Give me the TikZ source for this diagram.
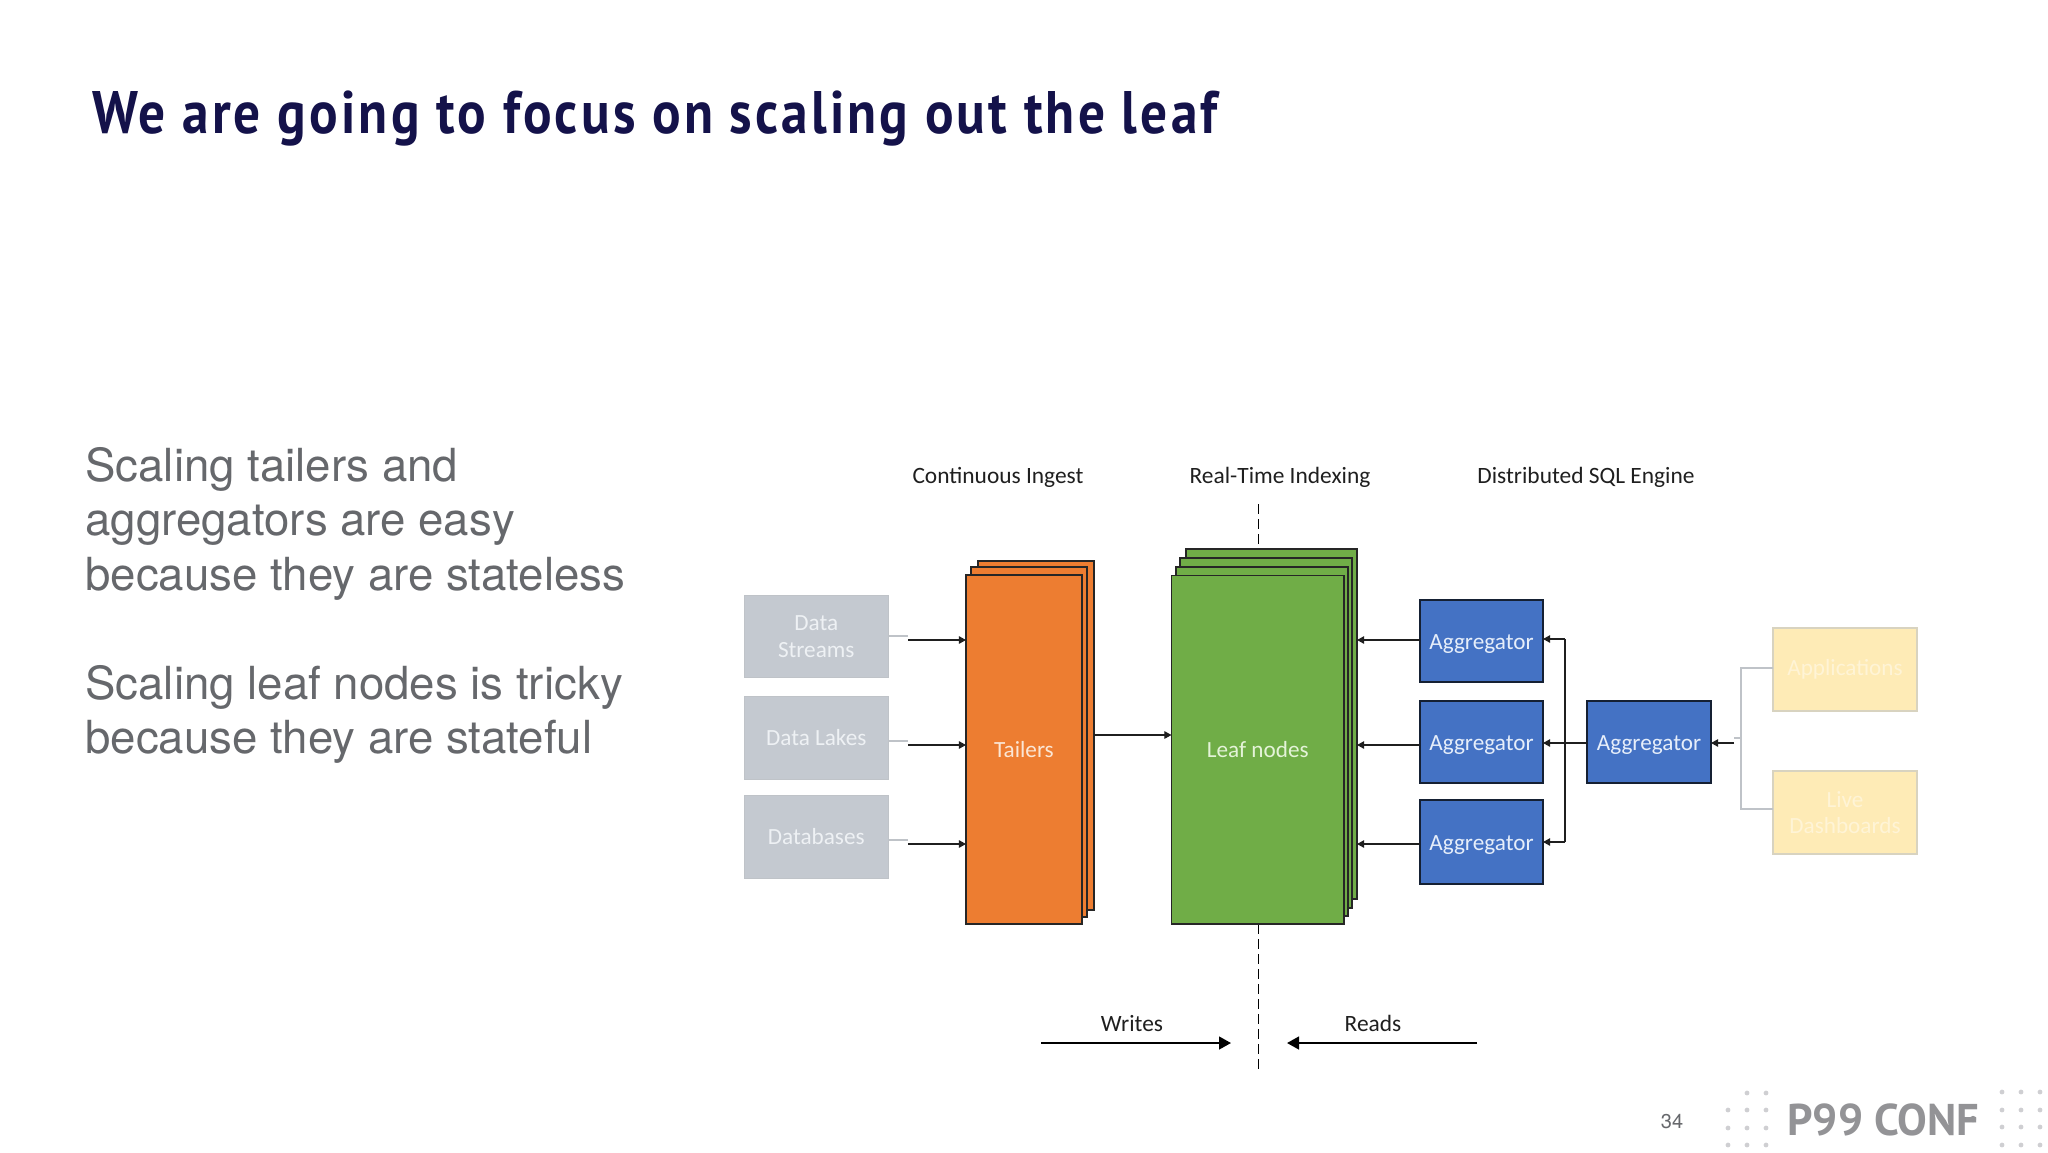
\documentclass[tikz,border=0pt]{standalone}
\usepackage{fontspec}
\usetikzlibrary{arrows.meta}
\setmainfont{TeX Gyre Heros}
\newfontfamily\cali{Carlito}
\newfontfamily\titlef[LetterSpace=6]{PT Sans}
\newfontfamily\logof{PT Sans}
\definecolor{titlecol}{HTML}{14124A}
\definecolor{bodycol}{HTML}{66686C}
\definecolor{greyfill}{HTML}{C4C9D0}
\definecolor{greyline}{HTML}{BFC3C8}
\definecolor{greytext}{HTML}{EEF1F4}
\definecolor{orangefill}{HTML}{ED7D31}
\definecolor{orangetext}{HTML}{FBE6D5}
\definecolor{greenfill}{HTML}{70AD47}
\definecolor{greentext}{HTML}{E4F3D8}
\definecolor{bluefill}{HTML}{4472C4}
\definecolor{bluetext}{HTML}{E6EEFA}
\definecolor{yellowfill}{HTML}{FEEBB6}
\definecolor{yellowline}{HTML}{D8D3C0}
\definecolor{yellowtext}{HTML}{FFF4D6}
\definecolor{darkedge}{HTML}{152033}
\definecolor{logocol}{HTML}{939396}
\definecolor{dotcol}{HTML}{CFCFD2}
\newcommand{\pxbox}[7]{%
  \pgfmathsetmacro{\bw}{(#5-#3)*0.5}%
  \pgfmathsetmacro{\bh}{(#6-#4)*0.5}%
  \node[#2,minimum width=\bw pt,minimum height=\bh pt] (#1) at ({(#3+#5)/2},{(#4+#6)/2}) {#7};}
\newcommand{\aggtext}{\raisebox{-1.6pt}[8pt][2.5pt]{Aggregator}}
\tikzset{
  x=0.5pt,y=-0.5pt,
  boxbase/.style={rectangle,inner sep=0pt,outer sep=0pt,align=center,font=\cali\fontsize{11.6}{13.4}\selectfont},
  greybox/.style={boxbase,fill=greyfill,draw=greyline,line width=0.5pt,text=greytext},
  yellowbox/.style={boxbase,fill=yellowfill,draw=yellowline,line width=0.6pt,text=yellowtext},
  orangebox/.style={boxbase,fill=orangefill,draw=black!85,line width=0.55pt,text=orangetext},
  greenbox/.style={boxbase,fill=greenfill,draw=black!85,line width=0.55pt,text=greentext},
  bluebox/.style={boxbase,fill=bluefill,draw=darkedge,line width=0.6pt,text=bluetext},
  heading/.style={inner sep=0pt,font=\cali\fontsize{11.7}{14}\selectfont,text=black!88},
  flow/.style={draw=black!88,line width=0.55pt,-{Triangle[length=3.6pt,width=3.8pt]}},
  bigflow/.style={draw=black,line width=1pt,-{Triangle[length=6pt,width=6.4pt]}},
  feeder/.style={draw=greyline,line width=0.55pt},
  divider/.style={draw=black,line width=0.5pt,dash pattern=on 5pt off 2.5pt},
  bodytext/.style={inner sep=0pt,anchor=base west,text=bodycol,font=\fontsize{22.8}{27}\selectfont},
  griddot/.style={circle,fill=dotcol,inner sep=0pt,minimum size=2.4pt},
}
\begin{document}
\begin{tikzpicture}
\useasboundingbox (0,0) rectangle (2048,1152);
\fill[white] (0,0) rectangle (2048,1152);

\node[inner sep=0pt,anchor=base west,text=titlecol,font=\titlef\bfseries\fontsize{30}{36}\selectfont] (title) at (92,133) {\scalebox{0.888}[1]{We are going to focus on scaling out the leaf}};

\node[bodytext] (b1) at (85,481) {Scaling tailers and};
\node[bodytext] (b2) at (85,535) {aggregators are easy};
\node[bodytext] (b3) at (85,590) {because they are stateless};
\node[bodytext] (b4) at (85,699) {Scaling leaf nodes is tricky};
\node[bodytext] (b5) at (85,753) {because they are stateful};

\node[heading] (h1) at (998,477) {Continuous Ingest};
\node[heading] (h2) at (1280,477) {Real-Time Indexing};
\node[heading] (h3) at (1586,477) {Distributed SQL Engine};

% dashed divider (behind the stacks)
\coordinate (dtop) at (1258,504);
\coordinate (dbot) at (1258,1072);
\draw[divider] (dtop) -- (dbot);

% source boxes
\pxbox{ds}{greybox}{744.5}{595.5}{888}{677.5}{Data\\Streams}
\pxbox{dl}{greybox}{744.5}{696.5}{888}{779}{Data Lakes}
\pxbox{db}{greybox}{744.5}{795.5}{888}{878.5}{Databases}

% tailers stack
\pxbox{t3}{orangebox}{978}{561}{1094}{910}{}
\pxbox{t2}{orangebox}{971}{567}{1087}{917}{}
\pxbox{tailers}{orangebox}{966}{575}{1082}{924}{Tailers}

% leaf stack
\pxbox{l4}{greenbox}{1186}{549}{1357}{899}{}
\pxbox{l3}{greenbox}{1180}{558}{1352}{908}{}
\pxbox{l2}{greenbox}{1176}{567}{1348}{916}{}
\pxbox{leaf}{greenbox}{1171.5}{575.5}{1344}{924}{Leaf nodes}

% aggregators
\pxbox{a1}{bluebox}{1420}{600}{1543}{682}{\aggtext}
\pxbox{a2}{bluebox}{1420}{701}{1543}{783}{\aggtext}
\pxbox{a3}{bluebox}{1420}{800}{1543}{884}{\aggtext}
\pxbox{ac}{bluebox}{1587}{701}{1711}{783}{\aggtext}

% clients
\pxbox{apps}{yellowbox}{1773}{628}{1917}{711}{\raisebox{-0.4pt}[8pt][2.5pt]{Applications}}
\pxbox{live}{yellowbox}{1773}{771}{1917}{854}{Live\\Dashboards}

% source connectors
\coordinate (s1) at (908,636); \coordinate (s1a) at (908,640);
\coordinate (s2) at (908,741); \coordinate (s2a) at (908,745);
\coordinate (s3) at (908,840); \coordinate (s3a) at (908,844);
\draw[feeder] (ds.east |- s1) -- (s1);
\draw[feeder] (dl.east |- s2) -- (s2);
\draw[feeder] (db.east |- s3) -- (s3);
\draw[flow] (s1a) -- (tailers.west |- s1a);
\draw[flow] (s2a) -- (tailers.west |- s2a);
\draw[flow] (s3a) -- (tailers.west |- s3a);

% tailers to leaf
\coordinate (tl) at (1094,735);
\draw[flow] (t3.east |- tl) -- (leaf.west |- tl);

% aggregators to leaf
\draw[flow] (a1.west |- s1a) -- (l4.east |- s1a);
\draw[flow] (a2.west |- s2a) -- (l4.east |- s2a);
\draw[flow] (a3.west |- s3a) -- (l4.east |- s3a);

% central aggregator fan-out
\coordinate (fan) at (1565,743);
\coordinate (fan1) at (1565,639);
\coordinate (fan3) at (1565,842);
\draw[flow] (ac.west |- fan) -- (a2.east |- fan);
\draw[flow] (fan1) -- (a1.east |- fan1);
\draw[flow] (fan3) -- (a3.east |- fan3);
\draw[draw=black!88,line width=0.55pt] (fan1) -- (fan3);

% clients to aggregator
\coordinate (cin) at (1734,743);
\coordinate (cg) at (1734,738);
\coordinate (cv) at (1741,738);
\coordinate (cv1) at (1741,668);
\coordinate (cv2) at (1741,809);
\draw[flow] (cin) -- (ac.east |- cin);
\draw[feeder] (cg) -- (cv);
\draw[feeder] (apps.west |- cv1) -- (cv1) -- (cv2) -- (live.west |- cv2);

% writes / reads
\node[heading] (w) at (1132,1024) {Writes};
\node[heading] (r) at (1373,1023) {Reads};
\coordinate (w1) at (1041,1043); \coordinate (w2) at (1231,1043);
\coordinate (r1) at (1477,1043); \coordinate (r2) at (1287,1043);
\draw[bigflow] (w1) -- (w2);
\draw[bigflow] (r1) -- (r2);

% footer
\node[inner sep=0pt,text=bodycol,font=\fontsize{10}{12}\selectfont] (pg) at (1672,1122) {34};
\node[inner sep=0pt,anchor=west,text=logocol] (logo) at (1787,1120) {\logof\bfseries\resizebox{96pt}{!}{P99 CONF}};
\node[circle,fill=logocol,inner sep=0pt,minimum size=3.2pt] (logodot) at (1973,1119) {};
\foreach \px/\py in {1747/1093,1766/1093,1728/1110,1747/1110,1766/1110,1728/1128,1747/1128,1766/1128,1728/1145,1747/1145,1766/1145,
  2002/1092,2021/1092,2040/1092,2002/1110,2021/1110,2040/1110,2002/1127,2021/1127,2040/1127,2002/1145,2021/1145,2040/1145}
  \node[griddot] (dot\px-\py) at (\px,\py) {};
\end{tikzpicture}
\end{document}
